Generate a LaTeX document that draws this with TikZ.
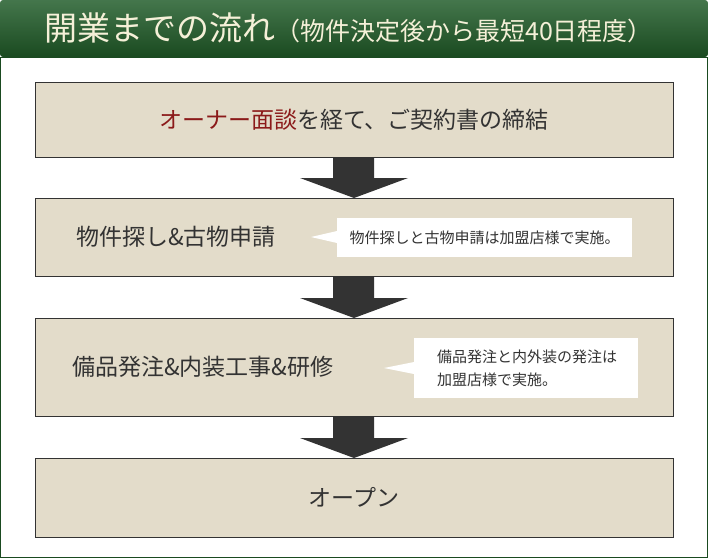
\documentclass[tikz,border=0pt]{standalone}
\usepackage{fontspec}
\setmainfont{Noto Sans CJK JP}
\definecolor{hdr}{HTML}{235E2C}
\definecolor{hdrd}{HTML}{1A4A20}
\definecolor{boxbg}{HTML}{E3DCCA}
\definecolor{txt}{HTML}{333333}
\definecolor{red1}{HTML}{8B1A1A}
\definecolor{title}{HTML}{F5F0D8}
\tikzset{
 stepbox/.style={draw=txt,line width=0.8pt,fill=boxbg},
 arr/.style={fill=txt},
 callout/.style={fill=white},
 big/.style={font=\fontsize{23}{26}\selectfont,text=txt},
 small/.style={font=\fontsize{15}{23}\selectfont,text=txt,align=left}
}
\begin{document}
\begin{tikzpicture}[x=1pt,y=-1pt]
\useasboundingbox (0,0) rectangle (708,558);
\draw[draw=hdrd,fill=white,line width=0.8pt] (0.5,57) rectangle (707.5,557.5);
\shade[top color=hdr!85!white,bottom color=hdrd,rounded corners=3pt] (0,0) rectangle (708,57);
\node[anchor=west,text=title,inner sep=0pt] (t) at (44,28) {\fontsize{33}{36}\selectfont 開業までの流れ\fontsize{25}{28}\selectfont （物件決定後から最短40日程度）};
% boxes
\path[stepbox] (35,82) rectangle (673,157);
\node[big] (b1) at (354,119.5) {\textcolor{red1}{オーナー面談}を経て、ご契約書の締結};
\path[stepbox] (35,198) rectangle (673,276);
\node[big,anchor=west,inner sep=0pt] (b2) at (76,237) {物件探し\&古物申請};
\path[stepbox] (35,318) rectangle (673,416);
\node[big,anchor=west,inner sep=0pt] (b3) at (72,367) {備品発注\&内装工事\&研修};
\path[stepbox] (35,458) rectangle (673,537);
\node[big] (b4) at (354,497.5) {オープン};
% arrows
\foreach \a/\b in {157/198,276/318,416/458}{
 \fill[arr] (333,\a) -- (374,\a) -- (374,\b-20) -- (408,\b-20) -- (354,\b) -- (300,\b-20) -- (333,\b-20) -- cycle;
}
% callouts
\fill[callout] (337,218) rectangle (632,257);
\fill[callout] (311,237) -- (337,231) -- (337,243) -- cycle;
\node[small] (c1) at (484.5,237.5) {物件探しと古物申請は加盟店様で実施。};
\fill[callout] (414,338) rectangle (638,398);
\fill[callout] (384,368) -- (414,362) -- (414,374) -- cycle;
\node[small,anchor=west,inner sep=0pt] (c2) at (437,368) {備品発注と内外装の発注は\\加盟店様で実施。};
\end{tikzpicture}
\end{document}
